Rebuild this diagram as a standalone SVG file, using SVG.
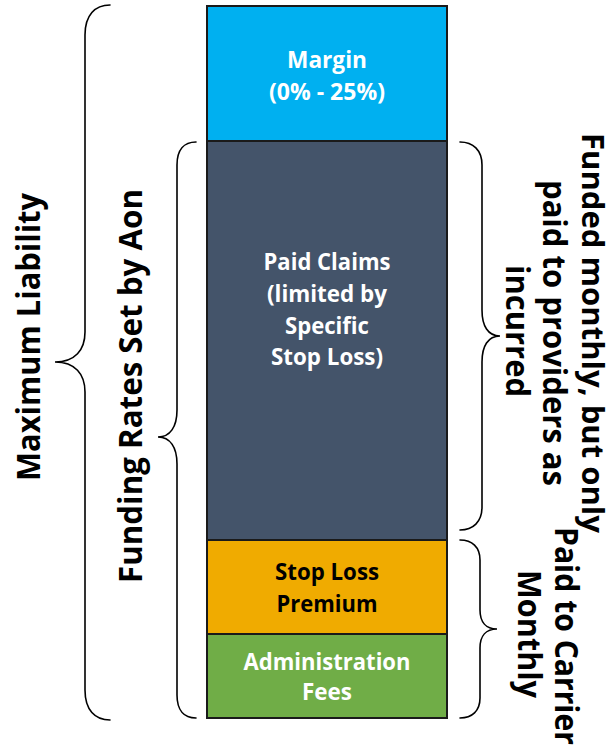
<svg xmlns="http://www.w3.org/2000/svg" width="607" height="747" viewBox="0 0 607 747">
  <style>
    .seg { stroke: #1a1a1a; stroke-width: 2; }
    .brace { fill: none; stroke: #000; stroke-width: 1.6; stroke-linecap: round; }
    .big { font-family: "Open Sans", "Liberation Sans", sans-serif; font-weight: 700; font-size: 32px; fill: #000; text-anchor: middle; }
    .lbl { font-family: "Open Sans", "Liberation Sans", sans-serif; font-weight: 700; font-size: 23px; text-anchor: middle; }
    .w { fill: #fff; }
    .k { fill: #000; }
  </style>

  <!-- stacked bar -->
  <g id="margin">
    <rect class="seg" x="207" y="6" width="240" height="135" fill="#00B0F0"/>
    <text class="lbl w" x="327" y="68" textLength="80" lengthAdjust="spacingAndGlyphs">Margin</text>
    <text class="lbl w" x="327" y="100" textLength="116" lengthAdjust="spacingAndGlyphs">(0% - 25%)</text>
  </g>
  <g id="paid-claims">
    <rect class="seg" x="207" y="141" width="240" height="399" fill="#44546A"/>
    <text class="lbl w" x="327" y="270" textLength="127" lengthAdjust="spacingAndGlyphs">Paid Claims</text>
    <text class="lbl w" x="327" y="302" textLength="120" lengthAdjust="spacingAndGlyphs">(limited by</text>
    <text class="lbl w" x="327" y="334" textLength="84" lengthAdjust="spacingAndGlyphs">Specific</text>
    <text class="lbl w" x="327" y="365" textLength="112" lengthAdjust="spacingAndGlyphs">Stop Loss)</text>
  </g>
  <g id="stop-loss-premium">
    <rect class="seg" x="207" y="540" width="240" height="94" fill="#F0AB00"/>
    <text class="lbl k" x="327" y="580" textLength="104" lengthAdjust="spacingAndGlyphs">Stop Loss</text>
    <text class="lbl k" x="327" y="612" textLength="101" lengthAdjust="spacingAndGlyphs">Premium</text>
  </g>
  <g id="administration-fees">
    <rect class="seg" x="207" y="634" width="240" height="84" fill="#70AD47"/>
    <text class="lbl w" x="327" y="670" textLength="167" lengthAdjust="spacingAndGlyphs">Administration</text>
    <text class="lbl w" x="327" y="700" textLength="50" lengthAdjust="spacingAndGlyphs">Fees</text>
  </g>

  <!-- braces -->
  <g id="braces">
    <path class="brace" d="M110,5 C95,5 85,15 85,35 L85,332 C85,350 75,362 55,362 C75,362 85,374 85,392 L85,690 C85,710 95,720 110,720"/>
    <path class="brace" d="M196,142 C184,142 177,150 177,165 L177,410 C177,427 170,437 158,437 C170,437 177,447 177,464 L177,695 C177,710 184,718 196,718"/>
    <path class="brace" d="M460,142 C473,142 482,150 482,165 L482,310 C482,326 488,336 500,336 C488,336 482,346 482,362 L482,507 C482,522 473,530 460,530"/>
    <path class="brace" d="M460,540 C472,540 480,547 480,560 L480,610 C480,622 486,629 497,629 C486,629 480,636 480,648 L480,698 C480,711 472,718 460,718"/>
  </g>

  <!-- side labels -->
  <g id="maximum-liability">
    <text class="big" transform="translate(40,337) rotate(-90)" textLength="288" lengthAdjust="spacingAndGlyphs">Maximum Liability</text>
  </g>
  <g id="funding-rates">
    <text class="big" transform="translate(142,386) rotate(-90)" textLength="394" lengthAdjust="spacingAndGlyphs">Funding Rates Set by Aon</text>
  </g>
  <g id="funded-monthly">
    <text class="big" transform="translate(582,333) rotate(90)" style="font-size:31px" textLength="400" lengthAdjust="spacingAndGlyphs">Funded monthly, but only</text>
    <text class="big" transform="translate(543,333) rotate(90)" textLength="306" lengthAdjust="spacingAndGlyphs">paid to providers as</text>
    <text class="big" transform="translate(506,331) rotate(90)" textLength="132" lengthAdjust="spacingAndGlyphs">incurred</text>
  </g>
  <g id="paid-to-carrier">
    <text class="big" transform="translate(555,636) rotate(90)" textLength="218" lengthAdjust="spacingAndGlyphs">Paid to Carrier</text>
    <text class="big" transform="translate(518,634) rotate(90)" textLength="128" lengthAdjust="spacingAndGlyphs">Monthly</text>
  </g>
</svg>
